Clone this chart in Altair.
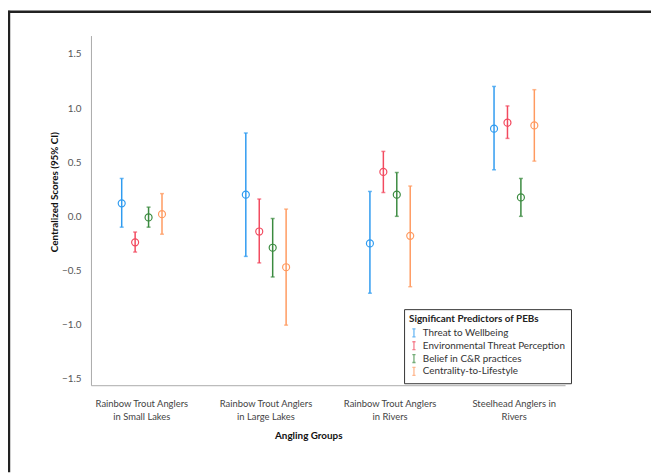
import altair as alt
import pandas as pd

groups = [
    "Rainbow Trout Anglers\nin Small Lakes",
    "Rainbow Trout Anglers\nin Large Lakes",
    "Rainbow Trout Anglers\nin Rivers",
    "Steelhead Anglers in\nRivers",
]
predictors = [
    "Threat to Wellbeing",
    "Environmental Threat Perception",
    "Belief in C&R practices",
    "Centrality-to-Lifestyle",
]
colors = ["#2f9bf0", "#f24a5f", "#3a8a3f", "#ff9a60"]

means = {
    "Threat to Wellbeing": [0.12, 0.20, -0.25, 0.81],
    "Environmental Threat Perception": [-0.24, -0.14, 0.41, 0.865],
    "Belief in C&R practices": [-0.01, -0.29, 0.20, 0.175],
    "Centrality-to-Lifestyle": [0.02, -0.47, -0.18, 0.84],
}
lows = {
    "Threat to Wellbeing": [-0.10, -0.37, -0.71, 0.43],
    "Environmental Threat Perception": [-0.33, -0.43, 0.22, 0.72],
    "Belief in C&R practices": [-0.10, -0.56, 0.00, 0.00],
    "Centrality-to-Lifestyle": [-0.165, -1.005, -0.65, 0.51],
}
highs = {
    "Threat to Wellbeing": [0.35, 0.77, 0.23, 1.20],
    "Environmental Threat Perception": [-0.145, 0.16, 0.60, 1.02],
    "Belief in C&R practices": [0.085, -0.02, 0.405, 0.35],
    "Centrality-to-Lifestyle": [0.21, 0.067, 0.28, 1.17],
}
y_ticks = [-1.5, -1.0, -0.5, 0.0, 0.5, 1.0, 1.5]

rows = []
for p in predictors:
    for i, g in enumerate(groups):
        rows.append({"group": g, "predictor": p, "mean": means[p][i],
                     "low": lows[p][i], "high": highs[p][i]})
df = pd.DataFrame(rows)

FONT = "Lato"

x_enc = alt.X(
    "group:N", sort=groups,
    scale=alt.Scale(paddingInner=0.5, paddingOuter=0.16),
    axis=alt.Axis(
        title="Angling Groups", labelExpr="split(datum.label, '\\n')",
        labelAngle=0, ticks=False, domainColor="#aaaaaa", labelColor="#444444",
        labelFontSize=9.5, labelPadding=14, labelLineHeight=13, labelFont=FONT,
        titleFont=FONT, titleFontSize=10, titleFontWeight="bold", titleColor="#111111",
        titlePadding=9, titleX=220,
    ),
)
xo_enc = alt.XOffset("predictor:N", sort=predictors,
                     scale=alt.Scale(paddingInner=0, paddingOuter=0.31))
color_scale = alt.Scale(domain=predictors, range=colors)
color_enc = alt.Color(
    "predictor:N", sort=predictors, scale=color_scale,
    legend=alt.Legend(
        title="Significant Predictors of PEBs", orient="none", legendX=317, legendY=277,
        symbolType="M-0.4,-1H0.4M0,-1V1M-0.4,1H0.4", symbolSize=64, symbolStrokeWidth=1.3,
        symbolFillColor="transparent",
        strokeColor="#333333", padding=5, labelFont=FONT, labelFontSize=10,
        labelColor="#333333", titleFont=FONT, titleFontSize=10, titleFontWeight="bold",
        titleColor="#222222", rowPadding=-1, titlePadding=4, labelOffset=4,
    ),
)
y_axis = alt.Axis(values=y_ticks, format=".1f", ticks=False, grid=False,
                  domainColor="#aaaaaa", labelColor="#555555", labelFontSize=10,
                  labelFont=FONT, labelPadding=10, title="Centralized Scores (95% CI)",
                  titleFont=FONT, titleFontSize=10, titleFontWeight="bold",
                  titleColor="#111111", titleX=-32, titleY=158)
y_scale = alt.Scale(domain=[-1.56, 1.67], nice=False, zero=False)

base = alt.Chart(df)

rules = base.mark_rule(strokeWidth=1.5).encode(
    x=x_enc, xOffset=xo_enc,
    y=alt.Y("low:Q", scale=y_scale, axis=y_axis), y2="high:Q",
    color=color_enc,
)
caps_lo = base.mark_tick(size=4, thickness=1.5).encode(
    x=x_enc, xOffset=xo_enc, y=alt.Y("low:Q", scale=y_scale), color=color_enc,
)
caps_hi = base.mark_tick(size=4, thickness=1.5).encode(
    x=x_enc, xOffset=xo_enc, y=alt.Y("high:Q", scale=y_scale), color=color_enc,
)
points = base.mark_point(filled=False, size=50, strokeWidth=1.2, opacity=1).encode(
    x=x_enc, xOffset=xo_enc, y=alt.Y("mean:Q", scale=y_scale), color=color_enc,
)

frame_df = pd.DataFrame({"k": [0]})
frame_left = alt.Chart(frame_df).mark_rule(color="#222222", strokeWidth=2.5).encode(
    x=alt.value(-83), y=alt.value(-25), y2=alt.value(442))
frame_top = alt.Chart(frame_df).mark_rule(color="#222222", strokeWidth=2.5).encode(
    x=alt.value(-84), x2=alt.value(567), y=alt.value(-24))

chart = alt.layer(rules, caps_lo, caps_hi, points, frame_left, frame_top).properties(
    width=480, height=354,
    padding={"left": 84, "top": 25, "right": 87, "bottom": 88},
    autosize=alt.AutoSizeParams(type="none"),
    background="white",
).configure_view(stroke=None)

chart.save("out.html", embed_options={"renderer": "svg", "actions": False})
